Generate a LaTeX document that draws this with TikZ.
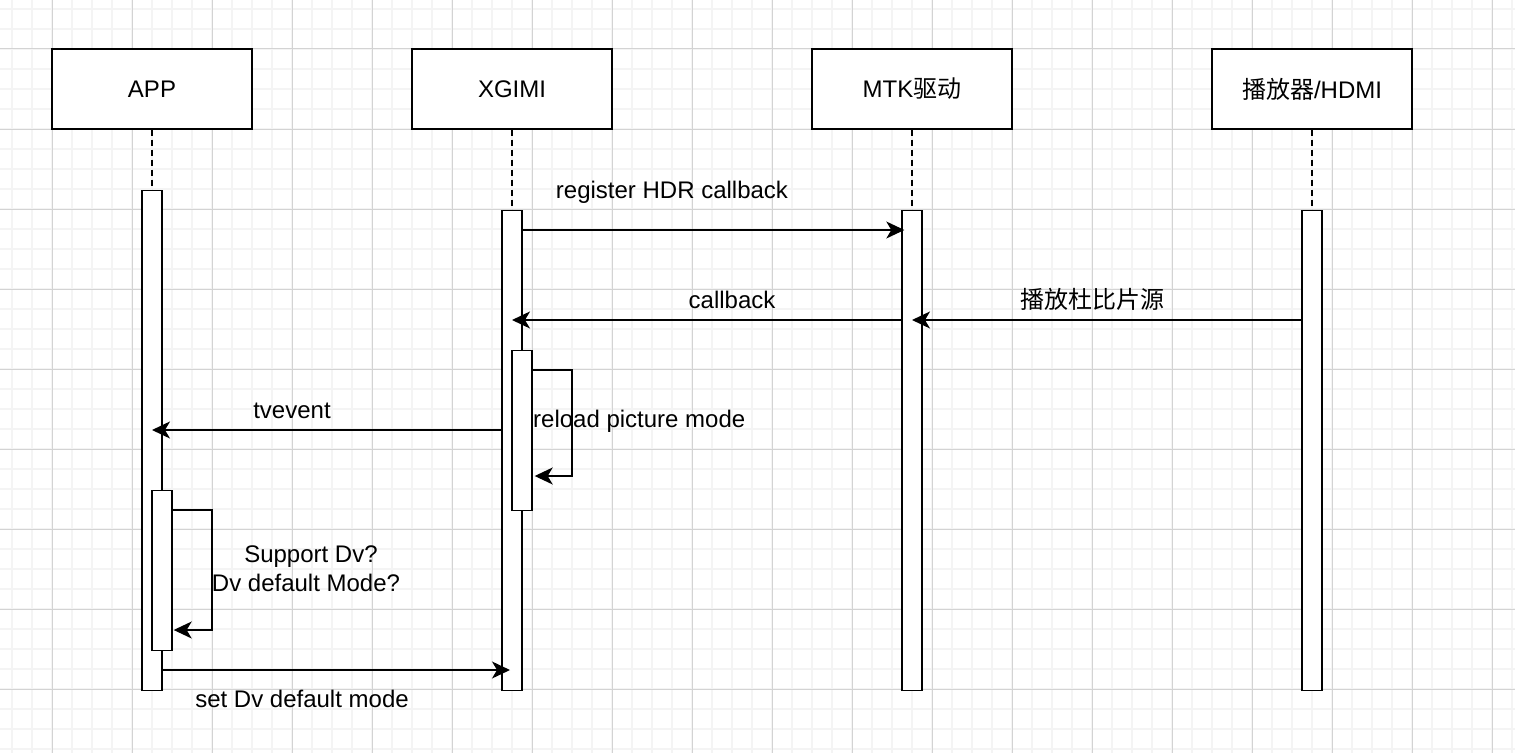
\documentclass[tikz,border=0pt]{standalone}
\usepackage{fontspec}
\setmainfont{Liberation Sans}
\newfontfamily\cjk{Noto Sans CJK SC}
\usetikzlibrary{arrows.meta}
\newcommand\dfont{\fontsize{24bp}{28bp}\selectfont}
\definecolor{gridminor}{HTML}{F4F4F4}
\definecolor{gridmajor}{HTML}{D3D3D3}
\begin{document}
\begin{tikzpicture}[x=1bp,y=-1bp,
  head/.style={draw, line width=1.4bp, fill=white, minimum width=200bp, minimum height=80bp, inner sep=0pt, font=\dfont},
  act/.style={draw, line width=1.4bp, fill=white, minimum width=20bp, inner sep=0pt, anchor=north},
  msg/.style={line width=1.4bp, -{Stealth[length=18bp,width=17bp,inset=5bp]}},
  life/.style={line width=1.4bp, dash pattern=on 6bp off 4bp},
  lbl/.style={font=\dfont, inner sep=0pt, anchor=base}]
\useasboundingbox (0,0) rectangle (1515,753);
\fill[white] (0,0) rectangle (1515,753);
% grid
\foreach \x in {12,32,...,1512} \draw[gridminor, line width=1.5bp] (\x,0) -- (\x,753);
\foreach \y in {9,29,...,749} \draw[gridminor, line width=1.5bp] (0,\y) -- (1515,\y);
\foreach \x in {52,132,...,1492} \draw[gridmajor, line width=1bp] (\x,0) -- (\x,753);
\foreach \y in {49,129,...,689} \draw[gridmajor, line width=1bp] (0,\y) -- (1515,\y);
% heads
\node[head] (app) at (152,89) {APP};
\node[head] (xg) at (512,89) {XGIMI};
\node[head] (mtk) at (912,89) {MTK{\cjk 驱动}};
\node[head] (pl) at (1312,89) {{\cjk 播放器}/HDMI};
% activations
\node[act, minimum height=500bp] (aa) at (152,190) {};
\node[act, minimum height=480bp] (xa) at (512,210) {};
\node[act, minimum height=480bp] (ma) at (912,210) {};
\node[act, minimum height=480bp] (pa) at (1312,210) {};
% lifelines
\draw[life] (app.south) -- (aa.north);
\draw[life] (xg.south) -- (xa.north);
\draw[life] (mtk.south) -- (ma.north);
\draw[life] (pl.south) -- (pa.north);
% inner activations
\node[act, minimum height=160bp] (xi) at (522,350) {};
\node[act, minimum height=160bp] (ai) at (162,490) {};
% messages
\coordinate (m1) at (0,230);
\coordinate (m2) at (0,320);
\coordinate (m3) at (0,430);
\coordinate (m4) at (0,670);
\draw[msg] (xa.east |- m1) -- ([xshift=3bp]ma.west |- m1);
\draw[msg] (ma.west |- m2) -- (xa.center |- m2);
\draw[msg] (pa.west |- m2) -- (ma.center |- m2);
\draw[msg] (xa.west |- m3) -- (aa.center |- m3);
\draw[msg] (aa.east |- m4) -- ([xshift=-2bp]xa.center |- m4);
% self loops
\draw[msg] (xi.east |- 0,370) -- (572,370) -- (572,476) -- ([xshift=2bp]xi.east |- 0,476);
\draw[msg] (ai.east |- 0,510) -- (212,510) -- (212,630) -- ([xshift=1bp]ai.east |- 0,630);
% labels
\node[lbl] (l1) at (672,198) {register HDR callback};
\node[lbl] (l2) at (732,308) {callback};
\node[lbl] (l3) at (1092,308) {\cjk 播放杜比片源};
\node[lbl] (l4) at (292,418) {tvevent};
\node[lbl, anchor=base west] (l5) at (533,427) {reload picture mode};
\node[lbl] (l6) at (311,562) {Support Dv?};
\node[lbl] (l7) at (306,591) {Dv default Mode?};
\node[lbl] (l8) at (302,707) {set Dv default mode};
\end{tikzpicture}
\end{document}
